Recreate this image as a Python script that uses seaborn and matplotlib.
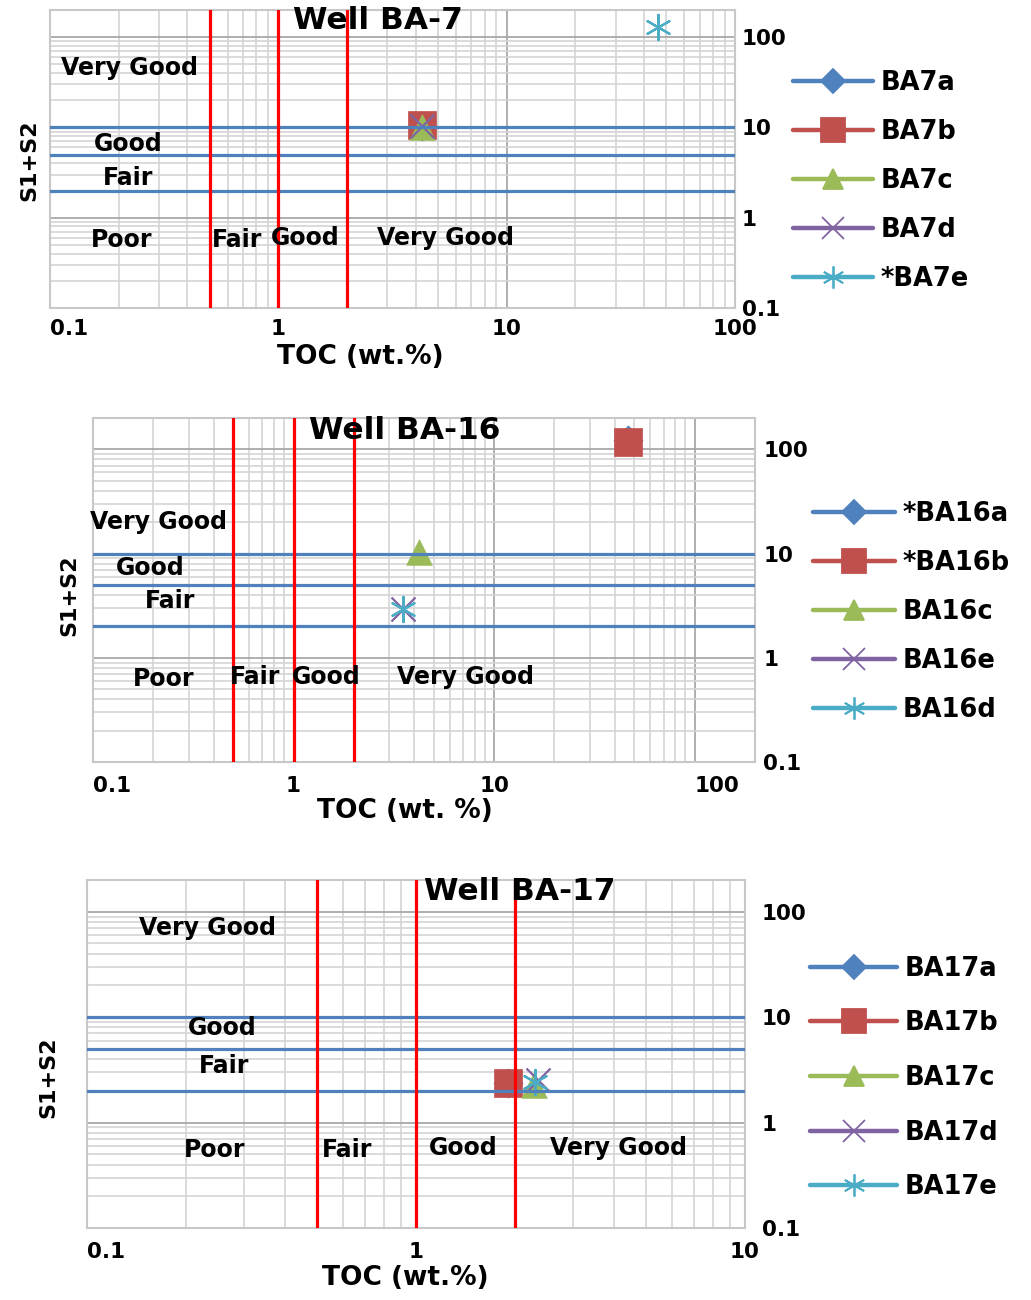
import numpy as np
import matplotlib
matplotlib.use("Agg")
import matplotlib.pyplot as plt
from matplotlib.lines import Line2D
from matplotlib.ticker import LogLocator, NullFormatter, FixedLocator, FixedFormatter
import seaborn as sns

sns.set_theme(style="white")
plt.rcParams["font.family"] = ["DejaVu Sans"]
plt.rcParams["font.weight"] = "bold"
for key in ("text.color", "axes.labelcolor", "xtick.color", "ytick.color"):
    plt.rcParams[key] = "black"

# ---------------- data ----------------
# Well BA-7
ba7_names = ["BA7a", "BA7b", "BA7c", "BA7d", "*BA7e"]
ba7_toc = [4.25, 4.25, 4.25, 4.25, 46.0]
ba7_s1s2 = [10.5, 10.6, 10.1, 10.5, 130.0]

# Well BA-16
ba16_names = ["*BA16a", "*BA16b", "BA16c", "BA16e", "BA16d"]
ba16_toc = [46.6, 46.6, 4.23, 3.52, 3.52]
ba16_s1s2 = [124.0, 118.0, 10.3, 2.94, 2.94]

# Well BA-17
ba17_names = ["BA17a", "BA17b", "BA17c", "BA17d", "BA17e"]
ba17_toc = [1.9, 1.9, 2.29, 2.35, 2.3]
ba17_s1s2 = [2.37, 2.37, 2.27, 2.55, 2.4]

# Source-rock quality thresholds
toc_limits = [0.5, 1, 2]
s1s2_limits = [2, 5, 10]

y_ticks = [0.1, 1, 10, 100]
y_ticklabels = ["0.1", "1", "10", "100"]

# ---------------- styling ----------------
series_colors = ["#4F81BD", "#C0504D", "#9BBB59", "#8064A2", "#4BACC6"]
series_markers = ["D", "s", "^", "x", (6, 2, 0)]
series_sizes = [220, 380, 340, 300, 330]
legend_msizes = [12, 17, 14, 16, 16]

W, H = 1031, 1300
fig = plt.figure(figsize=(W / 100, H / 100), dpi=100)
fig.patch.set_facecolor("white")


def px_rect(l, t, r, b):
    return [l / W, 1 - b / H, (r - l) / W, (b - t) / H]


panels = [
    dict(title="Well BA-7", names=ba7_names, toc=ba7_toc, s1s2=ba7_s1s2,
         xmax=100, xticks=[0.1, 1, 10, 100], xticklabels=["0.1", "1", "10", "100"],
         xlabel="TOC (wt.%)", rect=px_rect(50, 10, 735, 308),
         title_xy=(0.479, 0.966), xlabel_xy=(0.4526, -0.122), ylabel_xy=(-0.016, 0.497),
         ypad=5, xpad=8, last_left=False,
         legend_xy=(793 / W, 1 - 181 / H), legend_space=0.9, handle_len=3.1,
         zones=[("Very Good", 0.224, 45), ("Good", 0.22, 6.6), ("Fair", 0.22, 2.75),
                ("Poor", 0.206, 0.57), ("Fair", 0.66, 0.57), ("Good", 1.31, 0.59),
                ("Very Good", 5.4, 0.59)]),
    dict(title="Well BA-16", names=ba16_names, toc=ba16_toc, s1s2=ba16_s1s2,
         xmax=200, xticks=[0.1, 1, 10, 100], xticklabels=["0.1", "1", "10", "100"],
         xlabel="TOC (wt. %)", rect=px_rect(93, 418, 755, 762),
         title_xy=(0.471, 0.965), xlabel_xy=(0.471, -0.105), ylabel_xy=(-0.02, 0.485),
         ypad=6, xpad=10, last_left=True,
         legend_xy=(813 / W, 1 - 612 / H), legend_space=0.9, handle_len=3.2,
         zones=[("Very Good", 0.211, 20), ("Good", 0.192, 7.3), ("Fair", 0.242, 3.5),
                ("Poor", 0.226, 0.62), ("Fair", 0.643, 0.65), ("Good", 1.45, 0.65),
                ("Very Good", 7.2, 0.65)]),
    dict(title="Well BA-17", names=ba17_names, toc=ba17_toc, s1s2=ba17_s1s2,
         xmax=10, xticks=[0.1, 1, 10], xticklabels=["0.1", "1", "10"],
         xlabel="TOC (wt.%)", rect=px_rect(87, 880, 745, 1228),
         title_xy=(0.658, 0.966), xlabel_xy=(0.483, -0.107), ylabel_xy=(-0.044, 0.434),
         ypad=12, xpad=10, last_left=False,
         legend_xy=(810 / W, 1 - 1078 / H), legend_space=1.11, handle_len=3.4,
         zones=[("Very Good", 0.232, 70), ("Good", 0.257, 7.9), ("Fair", 0.261, 3.44),
                ("Poor", 0.245, 0.55), ("Fair", 0.617, 0.55), ("Good", 1.39, 0.574),
                ("Very Good", 4.14, 0.574)]),
]

for p in panels:
    ax = fig.add_axes(p["rect"])
    ax.set_xscale("log")
    ax.set_yscale("log")
    ax.set_xlim(0.1, p["xmax"])
    ax.set_ylim(0.1, 200)
    ax.set_facecolor("white")
    ax.set_axisbelow(True)

    # gridlines
    ax.xaxis.set_minor_locator(LogLocator(base=10, subs=np.arange(2, 10)))
    ax.yaxis.set_minor_locator(LogLocator(base=10, subs=np.arange(2, 10)))
    ax.xaxis.set_minor_formatter(NullFormatter())
    ax.yaxis.set_minor_formatter(NullFormatter())
    ax.grid(True, which="major", color="#A8A8A8", lw=1.3)
    ax.grid(True, which="minor", color="#D4D4D4", lw=1.2)
    for s in ax.spines.values():
        s.set_color("#C8C8C8")
        s.set_linewidth(1.5)

    # quality threshold lines
    for v in toc_limits:
        ax.axvline(v, color="#FF0000", lw=2.3, zorder=4)
    for h in s1s2_limits:
        ax.axhline(h, color="#4F81BD", lw=2.3, zorder=3)

    # samples
    for i, name in enumerate(p["names"]):
        m = series_markers[i]
        c = series_colors[i]
        kw = dict(marker=m, s=series_sizes[i], ax=ax, legend=False, zorder=2)
        if i < 3:
            kw.update(color=c, edgecolor=c, linewidth=0.5)
        else:
            kw.update(color=c, linewidth=1.6)
        sns.scatterplot(x=[p["toc"][i]], y=[p["s1s2"][i]], **kw)

    # axes ticks
    ax.xaxis.set_major_locator(FixedLocator(p["xticks"]))
    ax.xaxis.set_major_formatter(FixedFormatter(p["xticklabels"]))
    ax.yaxis.set_major_locator(FixedLocator(y_ticks))
    ax.yaxis.set_major_formatter(FixedFormatter(y_ticklabels))
    ax.yaxis.tick_right()
    ax.tick_params(axis="both", which="both", length=0)
    ax.tick_params(axis="x", labelsize=15.5, pad=p["xpad"], labelcolor="black")
    ax.tick_params(axis="y", labelsize=15.5, pad=p["ypad"], labelcolor="black")
    xtl = ax.get_xticklabels()
    for t in xtl:
        t.set_fontweight("bold")
    xtl[0].set_horizontalalignment("left")
    if p["last_left"]:
        xtl[-1].set_horizontalalignment("left")
    for t in ax.get_yticklabels():
        t.set_fontweight("bold")
        t.set_horizontalalignment("left")

    ax.set_xlabel(p["xlabel"], fontsize=19, fontweight="bold", color="black")
    ax.xaxis.set_label_coords(*p["xlabel_xy"])
    ax.set_ylabel("S1+S2", fontsize=16, fontweight="bold", color="black")
    ax.yaxis.set_label_position("left")
    ax.yaxis.set_label_coords(*p["ylabel_xy"])

    ax.text(p["title_xy"][0], p["title_xy"][1], p["title"], transform=ax.transAxes,
            ha="center", va="center", fontsize=22.5, fontweight="bold", color="black", zorder=6)

    for txt, zx, zy in p["zones"]:
        ax.text(zx, zy, txt, ha="center", va="center", fontsize=17,
                fontweight="bold", color="black", zorder=6)

    handles = [
        Line2D([], [], color=series_colors[i], lw=3.2, marker=series_markers[i],
               markersize=legend_msizes[i], markerfacecolor=series_colors[i],
               markeredgecolor=series_colors[i], markeredgewidth=1.3)
        for i in range(len(p["names"]))
    ]
    leg = fig.legend(handles, p["names"], loc="center left", bbox_to_anchor=p["legend_xy"],
                     bbox_transform=fig.transFigure, frameon=False,
                     handlelength=p["handle_len"], handletextpad=0.3,
                     labelspacing=p["legend_space"], borderpad=0, borderaxespad=0,
                     prop=dict(weight="bold", size=18.5))
    for t in leg.get_texts():
        t.set_color("black")

fig.savefig("out.png", dpi=100, facecolor="white")
